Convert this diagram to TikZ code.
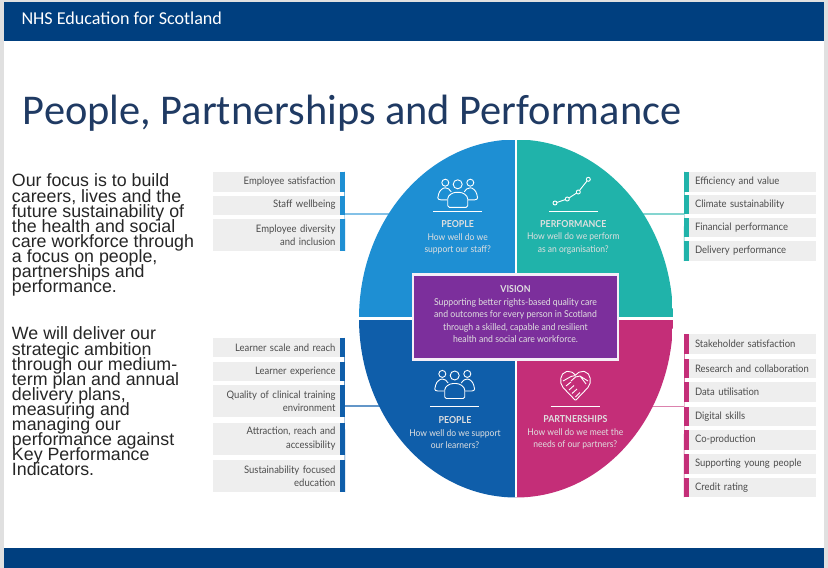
\documentclass[tikz,border=0pt]{standalone}
\usepackage{fontspec}
\setmainfont{Carlito}
\newfontfamily\bodyfont{Liberation Sans}
\newfontfamily\infofont[FakeStretch=0.92]{Lato}
\usetikzlibrary{positioning, shapes.geometric}

\definecolor{nhsblue}{HTML}{003F7F}
\definecolor{titleblue}{HTML}{1F3A63}
\definecolor{staffblue}{HTML}{1E8FD3}
\definecolor{perfteal}{HTML}{20B3AA}
\definecolor{learnblue}{HTML}{0F5EAA}
\definecolor{partpink}{HTML}{C42E78}
\definecolor{visionpurple}{HTML}{7C2F9C}
\definecolor{rowgray}{HTML}{EEEEEE}
\definecolor{rowtext}{HTML}{4C4C4C}

\begin{document}
\begin{tikzpicture}[
    x = 1pt, y = -1pt,
    outer sep = 0mm, inner sep = 0mm,
    band/.style = {rectangle, fill = nhsblue, minimum width = 820pt},
    rowleft/.style = {
      rectangle, fill = rowgray, minimum width = 127pt,
      text width = 118pt, align = right, text = rowtext,
      font = \infofont\fontsize{10.3}{13.5}\selectfont,
    },
    rowright/.style = {
      rectangle, fill = rowgray, minimum width = 127pt,
      text width = 115pt, align = left, text = rowtext,
      font = \infofont\fontsize{10.3}{13.5}\selectfont,
    },
    rowbar/.style = {rectangle, minimum width = 5pt},
    blurb/.style = {
      anchor = north west, align = left, text = black!85,
      font = {\bodyfont\fontsize{17.8}{15.1}\selectfont\lineskiplimit -20pt\relax},
    },
    quadtext/.style = {
      align = center, text = white!88!black,
      font = \infofont\fontsize{9.25}{12.7}\selectfont,
    },
    iconline/.style = {draw = white!85, line width = .9pt},
    oval/.style = {
      ellipse, minimum width = 314pt, minimum height = 358pt,
      path picture = {
        \fill[staffblue] (path picture bounding box.center) rectangle (path picture bounding box.north west);
        \fill[perfteal] (path picture bounding box.center) rectangle (path picture bounding box.north east);
        \fill[learnblue] (path picture bounding box.center) rectangle (path picture bounding box.south west);
        \fill[partpink] (path picture bounding box.center) rectangle (path picture bounding box.south east);
        \draw[white, line width = 2.8pt] (path picture bounding box.north) to (path picture bounding box.south);
        \draw[white, line width = 3.2pt] (path picture bounding box.west) to (path picture bounding box.east);
      },
    },
    pics/groupicon/.style = {
      code = {
        \draw[iconline] (-12.4,-1.6) circle (3.5);
        \draw[iconline] (0,0) circle (4.5);
        \draw[iconline] (12.6,-1.6) circle (3.5);
        \draw[iconline, rounded corners = 1.5pt] (-10,23) to (-10,16)
          .. controls (-10,11) and (-5,8) .. (0,8)
          .. controls (5,8) and (10,11) .. (10,16)
          to (10,23) -- cycle;
        \draw[iconline] (-10.5,15.5) to (-17,15.5)
          .. controls (-21,15.5) and (-20,12) .. (-19,9.5)
          .. controls (-18,6) and (-15,3.5) .. (-12.4,3.5)
          .. controls (-10,3.5) and (-8,5) .. (-6.5,7.5);
        \draw[iconline] (10.5,15.5) to (17,15.5)
          .. controls (21,15.5) and (20,12) .. (19,9.5)
          .. controls (18,6) and (15,3.5) .. (12.6,3.5)
          .. controls (10,3.5) and (8,5) .. (6.5,7.5);
      }
    },
  ]

  \useasboundingbox (0,0) rectangle (828,568);
  \fill[black!12] (0,0) rectangle (828,568);
  \fill[white] (4,2) rectangle (824,568);

  % page furniture
  \node[band, minimum height = 39pt] (header) at (414,21.5) {};
  \node[band, minimum height = 20pt] (footer) at (414,558) {};
  \node[anchor = base west, text = white, font = \fontsize{18.1}{20}\selectfont] (org) at (21.5,24) {NHS Education for Scotland};
  \node[anchor = base west, text = titleblue, font = \fontsize{42.4}{48}\selectfont] (title) at (23,124) {People, Partnerships and Performance};

  \node[blurb] (focus) at (12,174) {Our focus is to build\\careers, lives and the\\future sustainability of\\the health and social\\care workforce through\\a focus on people,\\partnerships and\\performance.};
  \node[blurb] (plan) at (12,327) {We will deliver our\\strategic ambition\\through our medium-\\term plan and annual\\delivery plans,\\measuring and\\managing our\\performance against\\Key Performance\\Indicators.};

  % measure rows
  \foreach \nm/\y/\h/\col/\txt in {
      staffa/181.5/20/staffblue/Employee satisfaction,
      staffb/205/19/staffblue/Staff wellbeing,
      staffc/235/32/staffblue/{Employee diversity\\and inclusion},
      learna/347.5/19.5/learnblue/Learner scale and reach,
      learnb/371.5/19/learnblue/Learner experience,
      learnc/401/32/learnblue/{Quality of clinical training\\environment},
      learnd/438.8/32.5/learnblue/{Attraction, reach and\\accessibility},
      learne/476/32/learnblue/{Sustainability focused\\education}
    }{
      \node[rowbar, fill = \col, minimum height = \h pt] (\nm bar) at (342.5,\y) {};
      \node[rowleft, minimum height = \h pt, left = 0pt of \nm bar] (\nm) {\txt};
    }
  \foreach \nm/\y/\h/\col/\txt in {
      perfa/181.5/20/perfteal/Efficiency and value,
      perfb/204.5/19/perfteal/Climate sustainability,
      perfc/227.5/19.5/perfteal/Financial performance,
      perfd/251/20/perfteal/Delivery performance,
      parta/344/20/partpink/Stakeholder satisfaction,
      partb/368.5/19/partpink/Research and collaboration,
      partc/392/20/partpink/Data utilisation,
      partd/416.5/19/partpink/Digital skills,
      parte/440/20/partpink/Co-production,
      partf/464/20/partpink/Supporting young people,
      partg/487.5/19.5/partpink/Credit rating
    }{
      \node[rowbar, fill = \col, minimum height = \h pt] (\nm bar) at (686.5,\y) {};
      \node[rowright, minimum height = \h pt, right = 0pt of \nm bar] (\nm) {\txt};
    }

  % thin spine behind each set of bars
  \draw[staffblue] (staffabar.north east) ++(-.5,0) to (staffcbar.south east);
  \draw[learnblue] (learnabar.north east) ++(-.5,0) to (learnebar.south east);
  \draw[perfteal] (perfabar.north west) ++(.5,0) to (perfdbar.south west);
  \draw[partpink] (partabar.north west) ++(.5,0) to (partgbar.south west);

  \coordinate (ovalc) at (516,318.5);
  \coordinate (stafftap) at (345,214);
  \coordinate (perftap) at (684,214);
  \coordinate (learntap) at (345,406);
  \coordinate (parttap) at (684,406.5);
  \draw[staffblue!55, line width = 1.2pt] (stafftap) to (stafftap -| ovalc);
  \draw[perfteal!55, line width = 1.2pt] (perftap) to (perftap -| ovalc);
  \draw[learnblue!65, line width = 1.2pt] (learntap) to (learntap -| ovalc);
  \draw[partpink!60, line width = 1.2pt] (parttap) to (parttap -| ovalc);

  \node[oval] (oval) at (ovalc) {};

  % quadrant icons
  \pic at (457.7,184.3) {groupicon};
  \pic at (454.7,375.5) {groupicon};
  \draw[iconline] (555,203) circle (2) (567.3,199) circle (2) (578.3,192) circle (2) (588.3,179.3) circle (2);
  \draw[iconline] (557,202.4) to (565.3,199.6) (569,198) to (576.6,193) (579.5,190.4) to (587,181);
  \draw[iconline, rounded corners = .8pt] (575.5,400.5) to (563.5,388)
    .. controls (559,383) and (560,373) .. (567,371.5)
    .. controls (571,371) and (574,373) .. (575.5,375.5)
    .. controls (577,373) and (580,371) .. (584,371.5)
    .. controls (591,373) and (592,383) .. (587.5,388) -- cycle;
  \draw[iconline] (563,381) to (571,376.5) to (575.5,375.5) (588,381) to (580,376)
    (571,381) to (575.5,377) to (580,376) to (586,384)
    (566,386) to (571,382) (569,390) to (574,385.5) (572,393.5) to (577,389) (575.5,397) to (580,392.5);
  \draw[iconline] (433,211) to (482,211);
  \draw[iconline] (549,211) to (598,211);
  \draw[iconline] (430,406.3) to (479,406.3);
  \draw[iconline] (550.7,406.3) to (600,406.3);

  \node[quadtext] (staffq) at (457.7,237.3) {{\bfseries\fontsize{9.6}{12.7}\selectfont PEOPLE}\\How well do we\\support our staff?};
  \node[quadtext] (perfq) at (573.3,237.3) {{\bfseries\fontsize{9.6}{12.7}\selectfont PERFORMANCE}\\How well do we perform\\as an organisation?};
  \node[quadtext] (learnq) at (455,432.8) {{\bfseries\fontsize{9.6}{12.7}\selectfont PEOPLE}\\How well do we support\\our learners?};
  \node[quadtext] (partq) at (575.3,432.5) {{\bfseries\fontsize{9.6}{12.7}\selectfont PARTNERSHIPS}\\How well do we meet the\\needs of our partners?};

  \node[rectangle, draw = white!92!visionpurple, fill = visionpurple, line width = 2.6pt,
    minimum width = 205pt, minimum height = 85pt] (vision) at (515.5,317) {};
  \node[quadtext, font = \infofont\fontsize{9.45}{12.4}\selectfont, yshift = 2.7pt] (visiontxt) at (vision.center) {{\bfseries\fontsize{9.6}{12.4}\selectfont VISION}\\Supporting better rights-based quality care\\and outcomes for every person in Scotland\\through a skilled, capable and resilient\\health and social care workforce.};
\end{tikzpicture}
\end{document}
